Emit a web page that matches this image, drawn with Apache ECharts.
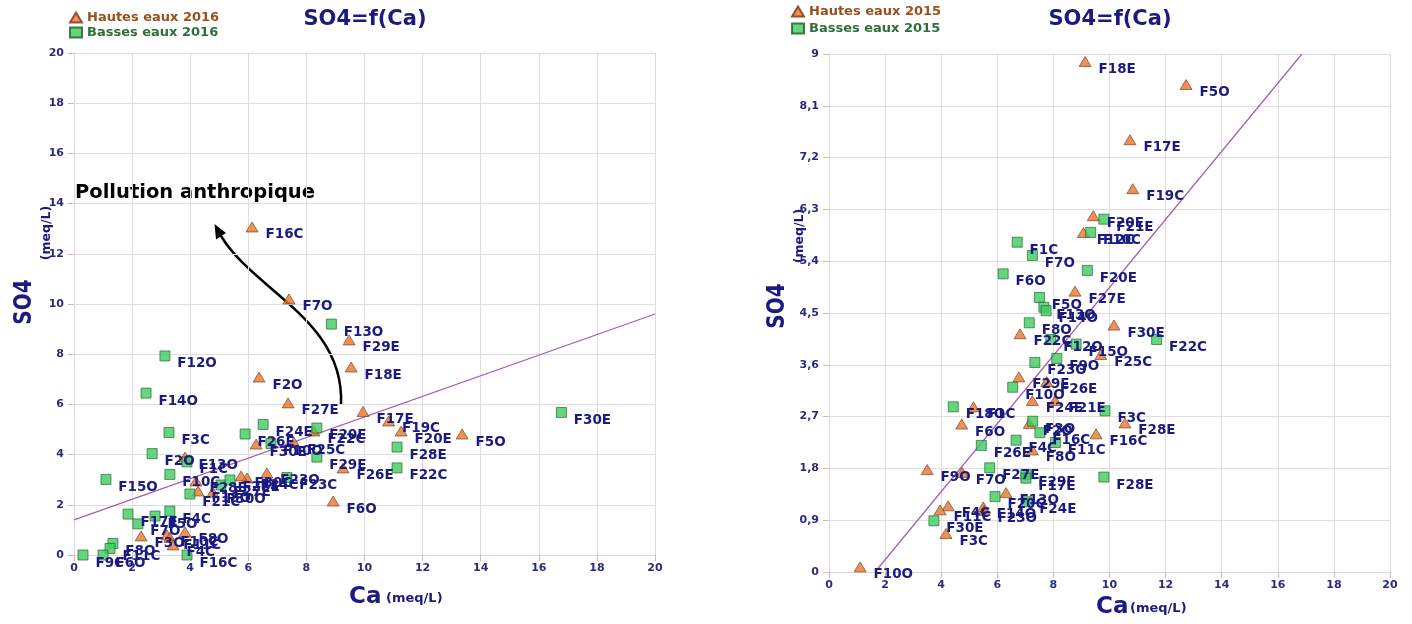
<!DOCTYPE html>
<html>
<head>
<meta charset="utf-8">
<title>SO4=f(Ca)</title>
<script src="https://cdn.jsdelivr.net/npm/echarts@6/dist/echarts.min.js"></script>
</head>
<body style="margin:0;background:#fff">
<div id="main" style="width:1412px;height:624px"></div>
<script>
// ---- 2016 (left) ----
var hautes2016Names = ['F16C','F7O','F29E','F18E','F2O','F27E','F17E','F19C','F20E','F5O','F6O','F26E','F22C','F25C','F30E','F23O','F24C','F30C','F13O','F28E','F18O','F30O','F3O','F10C','F11C','F8O','F4C'];
var hautes2016Ca    = [6.13,7.40,9.47,9.54,6.37,7.37,9.95,10.83,11.26,13.36,8.92,9.26,8.26,7.57,6.27,6.64,5.96,5.75,3.82,4.20,4.27,4.78,2.31,3.20,3.30,3.82,3.41];
var hautes2016SO4   = [13.07,10.20,8.57,7.49,7.09,6.06,5.72,5.34,4.94,4.82,2.15,3.47,4.94,4.50,4.42,3.27,3.07,3.15,3.90,2.95,2.55,2.51,0.76,0.80,0.70,0.92,0.40];

var basses2016Names = ['F12O','F14O','F3C','F13O','F30E','F28E','F22C','F20E','F29E','F24E','F26E','F10O','F23C','F27E','F25E','F2O','F1C','F10C','F15O','F21C','F17E','F5O','F4C','F7O','F8O','F11C','F9C','F6O','F16C'];
var basses2016Ca    = [3.13,2.48,3.27,8.86,16.78,11.12,11.12,8.36,8.36,6.51,5.89,6.78,7.33,5.06,5.37,2.69,3.89,3.30,1.10,3.99,1.86,2.79,3.30,2.20,1.34,1.24,0.31,1.00,3.89];
var basses2016SO4   = [7.93,6.45,4.88,9.20,5.68,4.30,3.47,5.06,3.90,5.20,4.82,4.44,3.09,2.79,2.99,4.04,3.71,3.21,3.01,2.43,1.63,1.55,1.75,1.24,0.46,0.26,0,0,0];

var trend2016 = [[0, 1.4], [20, 9.6]];

// ---- 2015 (right) ----
var hautes2015Names = ['F18E','F5O','F17E','F19C','F20E','F12C','F27E','F30E','F22C','F25C','F29E','F26E','F24E','F21E','F1C','F2O','F6O','F28E','F16C','F8O','F9O','F7O','F13O','F4C','F14O','F23O','F11C','F3C','F10O'];
var hautes2015Ca    = [9.13,12.73,10.73,10.83,9.42,9.07,8.77,10.16,6.81,9.69,6.77,7.76,7.25,8.06,5.15,7.14,4.73,10.55,9.52,7.25,3.50,4.75,6.31,4.25,5.50,5.53,3.96,4.17,1.11];
var hautes2015SO4   = [8.87,8.47,7.51,6.66,6.19,5.90,4.88,4.29,4.14,3.78,3.39,3.31,2.98,2.98,2.87,2.58,2.57,2.59,2.40,2.12,1.78,1.73,1.38,1.15,1.13,1.07,1.08,0.67,0.09];

var basses2015Names = ['F21E','F10C','F1C','F7O','F20E','F6O','F5O','F13O','F14O','F8O','F12O','F22C','F15O','F9O','F23O','F10O','F18O','F3C','F3O','F16C','F4C','F11C','F26E','F27E','F29E','F28E','F17E','F20C','F24E','F30E'];
var basses2015Ca    = [9.80,9.33,6.71,7.25,9.21,6.21,7.50,7.66,7.74,7.14,7.91,11.68,8.81,8.12,7.34,6.55,4.43,9.84,7.26,7.52,6.67,8.07,5.43,5.73,7.02,9.80,7.02,5.92,7.05,3.74];
var basses2015SO4   = [6.13,5.90,5.73,5.50,5.24,5.18,4.77,4.60,4.54,4.33,4.04,4.04,3.96,3.71,3.64,3.21,2.87,2.80,2.62,2.42,2.29,2.25,2.20,1.81,1.69,1.65,1.63,1.31,1.22,0.89];

var trend2015 = [[1.64, 0], [16.86, 9]];

var xTicks = { min: 0, max: 20, interval: 2 };

function points(names, ca, so4) {
    return names.map(function (n, i) { return { name: n, value: [ca[i], so4[i]] }; });
}

var navy = '#1a1a80';
var font = '"DejaVu Sans", Verdana, sans-serif';
var tri = { color: '#e5782f', borderColor: '#7a3510', borderWidth: 0.8 };
var sq = { color: '#3dcc5c', borderColor: '#1d5a26', borderWidth: 0.8 };
var ptLabel = {
    show: true, position: 'right', distance: 5, offset: [2, 8], opacity: 1,
    formatter: '{b}', color: navy, fontWeight: 'bold', fontSize: 13.5, fontFamily: font
};

function xAxis(idx) {
    return {
        type: 'value', gridIndex: idx, min: xTicks.min, max: xTicks.max, interval: xTicks.interval,
        axisLine: { show: true, lineStyle: { color: '#e6d3da' } },
        axisTick: { show: true, length: 6, lineStyle: { color: '#e3aebd' } },
        axisLabel: { color: '#2a2a7c', fontWeight: 'bold', fontSize: 11, fontFamily: font, margin: 8 },
        splitLine: { show: true, lineStyle: { color: '#dedede' } }
    };
}
function yAxis(idx, max, interval, fmt) {
    return {
        type: 'value', gridIndex: idx, min: 0, max: max, interval: interval,
        axisLine: { show: true, lineStyle: { color: '#e6d3da' } },
        axisTick: { show: true, length: 6, lineStyle: { color: '#e3aebd' } },
        axisLabel: { color: '#2a2a7c', fontWeight: 'bold', fontSize: 11, fontFamily: font, margin: 10, formatter: fmt },
        splitLine: { show: true, lineStyle: { color: '#dedede' } }
    };
}
function commaFmt(v) { return String(Math.round(v * 10) / 10).replace('.', ','); }

function txt(x, y, text, size, opts) {
    opts = opts || {};
    return {
        type: 'text', x: x, y: y, rotation: opts.rotation || 0, scaleX: opts.scaleX || 1, scaleY: opts.scaleY || 1,
        style: {
            text: text, fill: opts.color || navy, fontSize: size, fontWeight: 'bold', fontFamily: opts.family || font,
            textAlign: opts.align || 'center', textVerticalAlign: 'middle',
            align: opts.align || 'center', verticalAlign: 'middle'
        }
    };
}

var myChart = echarts.init(document.getElementById('main'));

function legend(left, top, gap, h, b) {
    return {
        orient: 'vertical', left: left, top: top, itemWidth: 12, itemHeight: 10, itemGap: gap,
        textStyle: { fontWeight: 'bold', fontSize: 13, fontFamily: font },
        data: [
            { name: h, icon: 'triangle', textStyle: { color: '#9b4f1c' } },
            { name: b, icon: 'rect', textStyle: { color: '#2f6e3a' } }
        ]
    };
}

myChart.setOption({
    animation: false,
    backgroundColor: '#fff',
    grid: [
        { left: 74, top: 53, width: 581, height: 502 },
        { left: 829, top: 54, width: 561, height: 518 }
    ],
    legend: [
        legend(64, 6, 2, 'Hautes eaux 2016', 'Basses eaux 2016'),
        legend(786, 0, 4, 'Hautes eaux 2015', 'Basses eaux 2015')
    ],
    xAxis: [xAxis(0), xAxis(1)],
    yAxis: [yAxis(0, 20, 2), yAxis(1, 9, 0.9, commaFmt)],
    series: [
        { type: 'line', xAxisIndex: 0, yAxisIndex: 0, data: trend2016, symbol: 'none', silent: true, z: 1,
          lineStyle: { color: '#a35db6', width: 1.2 } },
        { type: 'line', xAxisIndex: 1, yAxisIndex: 1, data: trend2015, symbol: 'none', silent: true, z: 1,
          lineStyle: { color: '#a35db6', width: 1.2 } },
        { name: 'Hautes eaux 2016', type: 'scatter', xAxisIndex: 0, yAxisIndex: 0, symbol: 'triangle', symbolSize: [12, 10],
          itemStyle: tri, label: ptLabel, data: points(hautes2016Names, hautes2016Ca, hautes2016SO4) },
        { name: 'Basses eaux 2016', type: 'scatter', xAxisIndex: 0, yAxisIndex: 0, symbol: 'rect', symbolSize: 10,
          itemStyle: sq, label: ptLabel, data: points(basses2016Names, basses2016Ca, basses2016SO4) },
        { name: 'Hautes eaux 2015', type: 'scatter', xAxisIndex: 1, yAxisIndex: 1, symbol: 'triangle', symbolSize: [12, 10],
          itemStyle: tri, label: ptLabel, data: points(hautes2015Names, hautes2015Ca, hautes2015SO4) },
        { name: 'Basses eaux 2015', type: 'scatter', xAxisIndex: 1, yAxisIndex: 1, symbol: 'rect', symbolSize: 10,
          itemStyle: sq, label: ptLabel, data: points(basses2015Names, basses2015Ca, basses2015SO4) }
    ],
    graphic: [
        // titles
        txt(365, 20, 'SO4=f(Ca)', 21),
        txt(1110, 20, 'SO4=f(Ca)', 21),
        // axis names
        txt(349, 597, 'Ca', 23, { align: 'left' }),
        txt(386, 599, '(meq/L)', 13, { align: 'left' }),
        txt(1096, 607, 'Ca', 23, { align: 'left' }),
        txt(1130, 609, '(meq/L)', 13, { align: 'left' }),
        txt(24, 302, 'SO4', 20, { rotation: Math.PI / 2, scaleY: 1.25 }),
        txt(47, 233, '(meq/L)', 12.5, { rotation: Math.PI / 2 }),
        txt(777, 306, 'SO4', 20, { rotation: Math.PI / 2, scaleY: 1.25 }),
        txt(800, 236, '(meq/L)', 12.5, { rotation: Math.PI / 2 }),
        // annotation
        txt(75, 193, 'Pollution anthropique', 19.5, { align: 'left', color: '#000' }),
        { type: 'bezierCurve', shape: { x1: 341, y1: 405, cpx1: 345, cpy1: 320, cpx2: 255, cpy2: 292, x2: 221, y2: 236 },
          style: { stroke: '#000', lineWidth: 2.5, fill: null } },
        { type: 'polygon', shape: { points: [[214.5, 224], [226, 233], [216, 239.5]] }, style: { fill: '#000' } }
    ]
});
</script>
</body>
</html>
